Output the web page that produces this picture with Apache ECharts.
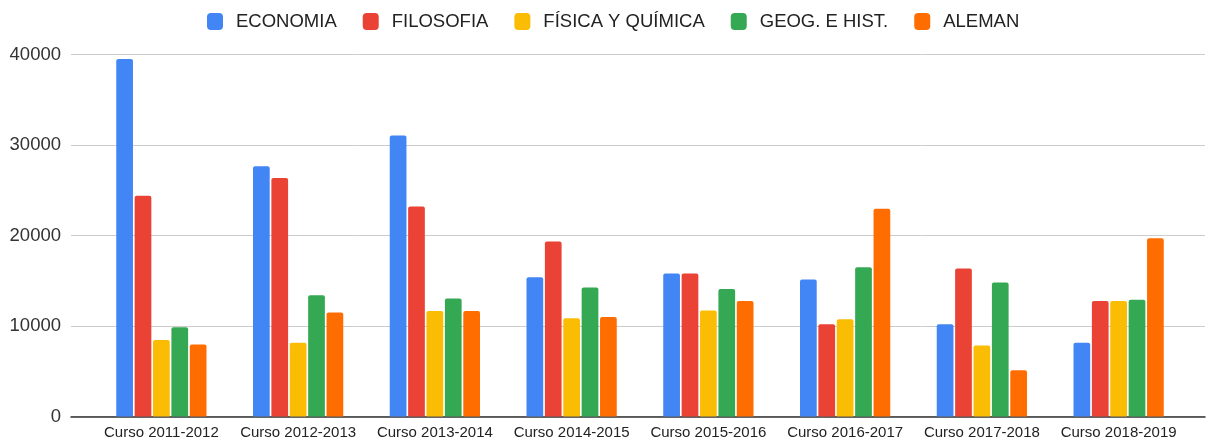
<!DOCTYPE html>
<html>
<head>
<meta charset="utf-8">
<script src="https://cdn.jsdelivr.net/npm/echarts@6/dist/echarts.min.js"></script>
<style>
html,body{margin:0;padding:0;background:#fff;}
#chart{width:1208px;height:442px;}
</style>
</head>
<body>
<div id="chart"></div>
<script>
const categories = ["Curso 2011-2012","Curso 2012-2013","Curso 2013-2014","Curso 2014-2015","Curso 2015-2016","Curso 2016-2017","Curso 2017-2018","Curso 2018-2019"];
const economia  = [39500, 27650, 31050, 15400, 15800, 15150, 10200, 8150];
const filosofia = [24400, 26350, 23200, 19350, 15800, 10200, 16350, 12750];
const fisica    = [8450, 8150, 11650, 10850, 11700, 10750, 7850, 12750];
const geog      = [9850, 13400, 13050, 14250, 14100, 16500, 14800, 12900];
const aleman    = [7950, 11500, 11650, 11000, 12750, 22950, 5100, 19700];
const seriesNames = ["ECONOMIA","FILOSOFIA","FÍSICA Y QUÍMICA","GEOG. E HIST.","ALEMAN"];
const colors = ["#4285F4","#EA4335","#FBBC04","#34A853","#FF6D01"];
const yTicks = {min:0, max:40000, interval:10000};

const dataSets = [economia, filosofia, fisica, geog, aleman];
const chart = echarts.init(document.getElementById('chart'), null, {renderer:'canvas'});
const font = 'Arial, "Liberation Sans", sans-serif';
chart.setOption({
  animation:false,
  color: colors,
  legend:{
    top: 7, left: 202,
    itemWidth: 16, itemHeight: 17, itemGap: 26,
    icon: 'roundRect',
    textStyle:{fontFamily: font, fontSize: 18.5, color:'#222', padding:[0,0,0,8]},
    data: seriesNames
  },
  grid:[
    {left:71, right:3, top:54.5, bottom:25.5},
    {left:93, right:21, top:54.5, bottom:25.5}
  ],
  xAxis:[
    {gridIndex:0, type:'value', min:0, max:1, axisLabel:{show:false}, axisTick:{show:false}, splitLine:{show:false},
     axisLine:{show:true, lineStyle:{color:'#333', width:1.5}}},
    {gridIndex:1, type:'category', data:categories, axisLine:{show:false}, axisTick:{show:false},
     axisLabel:{fontFamily:font, fontSize:15, color:'#222', margin:9, interval:0}}
  ],
  yAxis:[
    {gridIndex:0, type:'value', min:yTicks.min, max:yTicks.max, interval:yTicks.interval,
     axisLine:{show:false}, axisTick:{show:false},
     axisLabel:{fontFamily:font, fontSize:18.5, color:'#333', margin:10, formatter:(v)=>String(v)},
     splitLine:{lineStyle:{color:'#cccccc', width:1}}},
    {gridIndex:1, type:'value', min:yTicks.min, max:yTicks.max, interval:yTicks.interval, show:false, splitLine:{show:false}}
  ],
  series: dataSets.map((d,i)=>({
    name: seriesNames[i], type:'bar', xAxisIndex:1, yAxisIndex:1, data:d,
    barGap:'10%', barCategoryGap:'34%',
    itemStyle:{color:colors[i], borderRadius:[2,2,0,0]}
  }))
});
</script>
</body>
</html>
